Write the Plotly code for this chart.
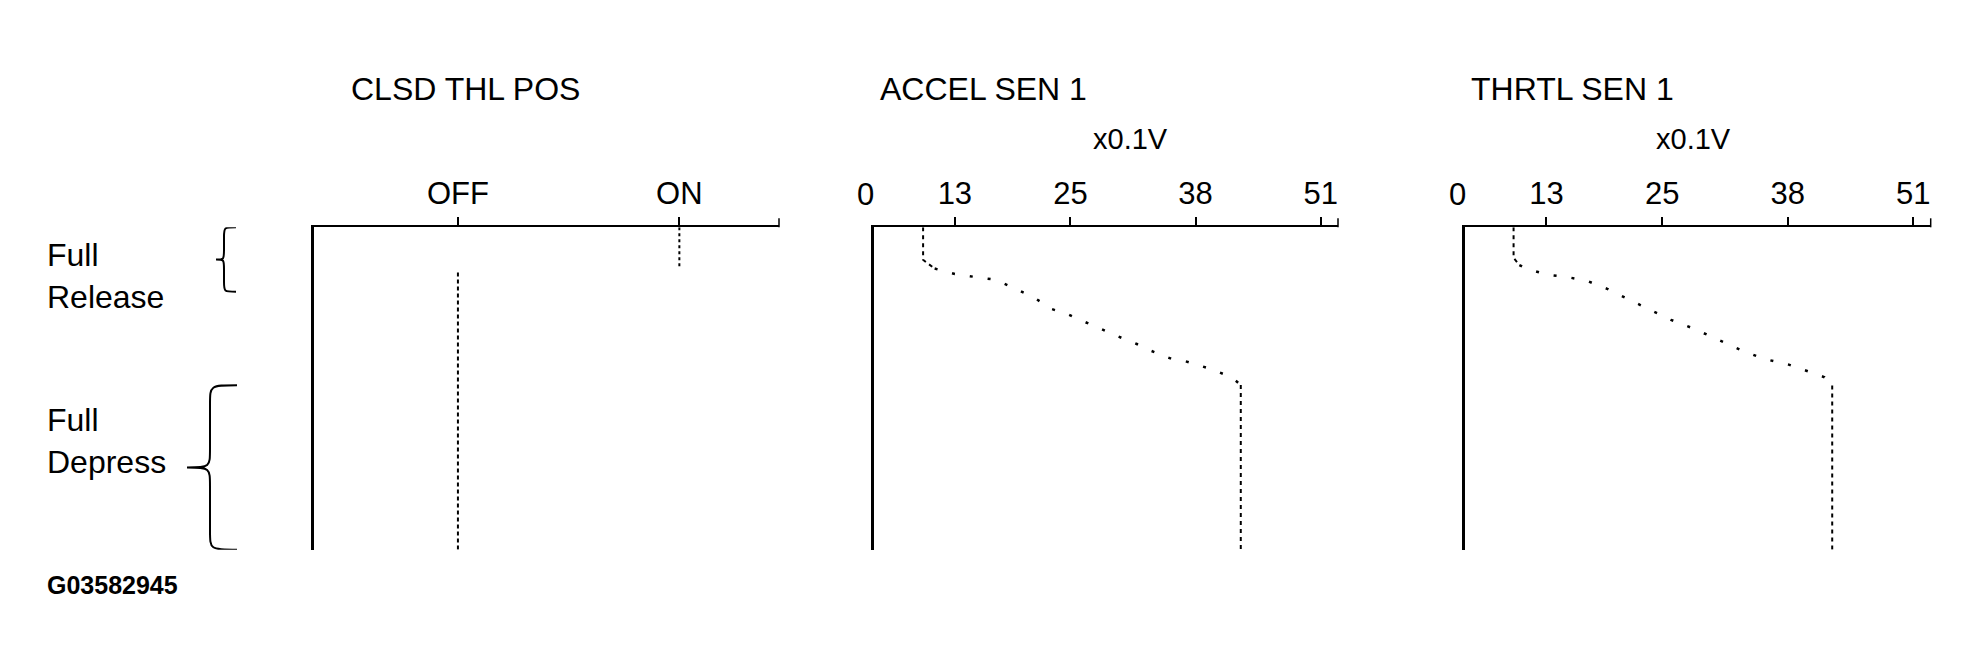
import plotly.graph_objects as go

# pedal travel in % (0 = full release at the top, 100 = full depress at the bottom)
RELEASE_SPAN = [0, 20]
DEPRESS_SPAN = [49, 100]

# CLSD THL POS switch
CLSD_STATES = ['OFF', 'ON']
CLSD_ON_TRAVEL = [0, 13]
CLSD_OFF_TRAVEL = [14, 100]

# sensor voltages, x0.1V
SENSOR_TICKS = [13, 25, 38, 51]
ACCEL_V = [9.7, 9.7, 10.9, 13.0, 15.1, 17.3, 19.3, 21.3, 23.0, 24.7, 26.0, 28.4,
           29.6, 31.9, 33.2, 35.5, 36.9, 39.3, 41.7, 42.7, 42.7]
ACCEL_TRAVEL = [0, 10.1, 12.8, 14.5, 15.4, 16.3, 19.1, 21.9, 25.3, 26.9, 28.7, 31.9,
                33.4, 36.2, 38.1, 40.8, 41.5, 43.7, 46.4, 48.9, 100]
THRTL_V = [9.6, 9.6, 10.2, 11.0, 13.1, 15.1, 17.2, 19.3, 21.2, 23.6, 25.9, 28.3,
           30.8, 33.1, 35.5, 38.1, 40.6, 41.8, 42.6, 42.6]
THRTL_TRAVEL = [0, 9.5, 11.7, 12.9, 14.7, 15.4, 16.6, 19.1, 21.9, 25.5, 28.7, 31.5,
                35.0, 38.0, 40.8, 42.6, 45.2, 46.5, 49.1, 100]

FONT = 'Liberation Sans, Arial, sans-serif'
W, H = 1961, 664


def px(x):
    return x / W


def py(y):
    return 1 - y / H


def sensor_traces(v, travel, axis):
    # dashed start, sparse dots on the ramp, dashed plateau
    segs = [(0, 3, '4px,4px', 2), (2, len(v) - 1, '3px,15px', 2.5), (len(v) - 2, len(v), '4px,4px', 2)]
    out = []
    for a, b, dash, w in segs:
        out.append(go.Scatter(x=v[a:b], y=travel[a:b], mode='lines', xaxis='x' + axis, yaxis='y' + axis,
                              line=dict(color='black', width=w, dash=dash), hoverinfo='skip'))
    return out


def brace_path(x_tip, x_stem, x_end, y_top, y_bot, r):
    ym = (y_top + y_bot) / 2
    return (f'M {x_end},{y_top} C {x_stem},{y_top} {x_stem},{y_top} {x_stem},{y_top + r} '
            f'L {x_stem},{ym - r} C {x_stem},{ym} {x_stem},{ym} {x_tip},{ym} '
            f'C {x_stem},{ym} {x_stem},{ym} {x_stem},{ym + r} '
            f'L {x_stem},{y_bot - r} C {x_stem},{y_bot} {x_stem},{y_bot} {x_end},{y_bot}')


fig = go.Figure()

fig.add_trace(go.Scatter(x=[CLSD_STATES[1]] * 2, y=CLSD_ON_TRAVEL, mode='lines',
                         line=dict(color='black', width=2, dash='3px,3px'), hoverinfo='skip'))
fig.add_trace(go.Scatter(x=[CLSD_STATES[0]] * 2, y=CLSD_OFF_TRAVEL, mode='lines',
                         line=dict(color='black', width=2, dash='4px,3px'), hoverinfo='skip'))
for t in sensor_traces(ACCEL_V, ACCEL_TRAVEL, '2'):
    fig.add_trace(t)
for t in sensor_traces(THRTL_V, THRTL_TRAVEL, '3'):
    fig.add_trace(t)

ydom = [py(541.7), py(219.3)]
xdoms = [[px(306), px(771)], [px(866), px(1330)], [px(1457.3), px(1922.7)]]

xcommon = dict(side='top', showline=True, linewidth=1.5, linecolor='black', ticks='outside',
               ticklen=9, tickwidth=1.5, tickcolor='black', showgrid=False, zeroline=False,
               tickfont=dict(family=FONT, size=31, color='black'))
ycommon = dict(range=[100, 0], domain=ydom, showline=True, linewidth=2.5, linecolor='black',
               showticklabels=False, ticks='', showgrid=False, zeroline=False)

fig.update_layout(
    width=W, height=H, margin=dict(l=0, r=0, t=0, b=0),
    paper_bgcolor='white', plot_bgcolor='white', showlegend=False,
    xaxis=dict(xcommon, domain=xdoms[0], anchor='y', type='category',
               categoryorder='array', categoryarray=CLSD_STATES, range=[-0.65, 1.45]),
    xaxis2=dict(xcommon, domain=xdoms[1], anchor='y2', range=[4.6, 52.8], tickvals=SENSOR_TICKS),
    xaxis3=dict(xcommon, domain=xdoms[2], anchor='y3', range=[4.6, 52.8], tickvals=SENSOR_TICKS),
    yaxis=dict(ycommon, anchor='x'),
    yaxis2=dict(ycommon, anchor='x2'),
    yaxis3=dict(ycommon, anchor='x3'),
)

# small end marks at the right end of each top axis
for i in ['', '2', '3']:
    fig.add_shape(type='line', xref='x' + i + ' domain', yref='y' + i + ' domain',
                  x0=1, x1=1, ysizemode='pixel', yanchor=1, y0=0, y1=9,
                  line=dict(color='black', width=1.5))

# braces for the pedal positions
fig.add_shape(type='path', xref='paper', yref='y',
              path=brace_path(px(208), px(216), px(228), RELEASE_SPAN[0], RELEASE_SPAN[1], 3),
              line=dict(color='black', width=2))
fig.add_shape(type='path', xref='paper', yref='y',
              path=brace_path(px(179), px(202), px(229), DEPRESS_SPAN[0], DEPRESS_SPAN[1], 6),
              line=dict(color='black', width=2))


def note(text, x, y, size=32, xanchor='left', weight='normal'):
    fig.add_annotation(text=text, x=x, y=y, xref='paper', yref='paper', showarrow=False,
                       xanchor=xanchor, yanchor='middle', align='left',
                       font=dict(family=FONT, size=size, color='black', weight=weight))


note('CLSD THL POS', px(341), py(81))
note('ACCEL SEN 1', px(870), py(81))
note('THRTL SEN 1', px(1461), py(81))
note('x0.1V', px(1122.5), py(131), size=29, xanchor='center')
note('x0.1V', px(1685), py(131), size=29, xanchor='center')
note('0', px(857), py(187), size=31, xanchor='center')
note('0', px(1449), py(187), size=31, xanchor='center')
note('Full<br>Release', px(36.7), py(268))
note('Full<br>Depress', px(36.7), py(433))
note('G03582945', px(36.7), py(577), size=25, weight='bold')

fig.write_html('out.html')
